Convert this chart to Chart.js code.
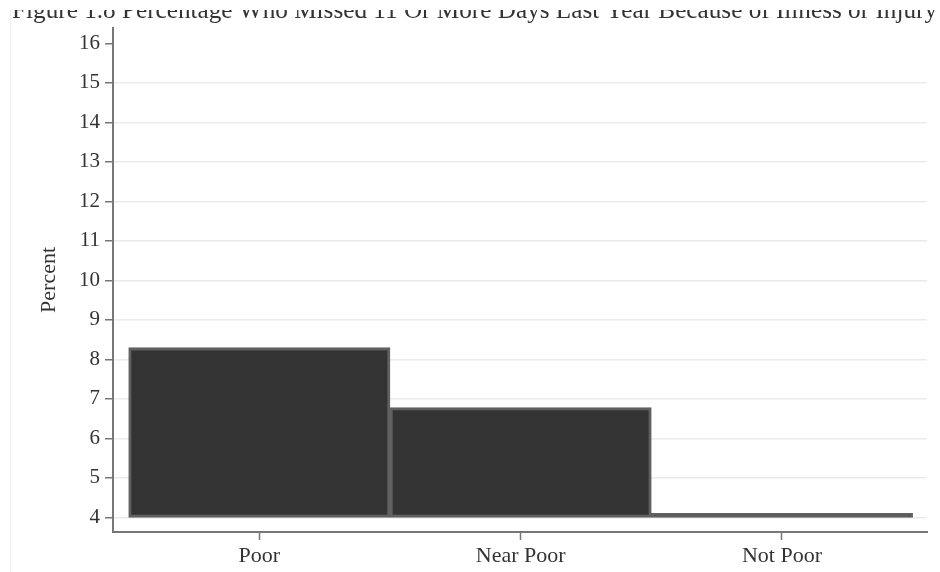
<!DOCTYPE html>
<html>
<head>
<meta charset="utf-8">
<script src="https://cdn.jsdelivr.net/npm/chart.js@4/dist/chart.umd.min.js"></script>
<style>
  html, body { margin: 0; padding: 0; background: #fff; }
  #wrap { position: relative; width: 940px; height: 572px; overflow: hidden; background: #fff; }
  #frame { position: absolute; left: 10px; top: 0; width: 0; height: 572px; border-left: 1px solid #ededed; }
  #c { position: absolute; left: 0; top: -4px; }
  #clip { position: absolute; left: 0; top: 0; width: 940px; height: 10px; background: #fff; }
</style>
</head>
<body>
<div id="wrap">
  <div id="frame"></div>
  <canvas id="c" width="940" height="576"></canvas>
  <div id="clip"></div>
</div>
<script>
// ---- data ----
const titleText = "Figure 1.8 Percentage Who Missed 11 Or More Days Last Year Because of Illness or Injury";
const categories = ["Poor", "Near Poor", "Not Poor"];
const percentValues = [8.3, 6.78, 4.1];
const baseValue = 4;
const yTicks = [4, 5, 6, 7, 8, 9, 10, 11, 12, 13, 14, 15, 16];
const yAxisTitle = "Percent";

const serif = "'Liberation Serif', 'Times New Roman', serif";
const textColor = "#333333";
const axisColor = "#777777";

const ctx = document.getElementById('c').getContext('2d');
new Chart(ctx, {
  type: 'bar',
  data: {
    datasets: [{
      data: categories.map((c, i) => ({ x: i, y: [baseValue, percentValues[i]] })),
      backgroundColor: '#333333',
      borderColor: '#606060',
      borderWidth: 3,
      borderSkipped: false,
      barPercentage: 1,
      categoryPercentage: 1
    }]
  },
  options: {
    responsive: false,
    animation: false,
    devicePixelRatio: 1,
    layout: { padding: { left: 12, right: 3, top: 0, bottom: 0 } },
    plugins: {
      legend: { display: false },
      tooltip: { enabled: false },
      title: {
        display: true,
        text: titleText,
        color: textColor,
        font: { family: serif, size: 26, weight: 'normal', lineHeight: 1.15 },
        padding: { top: 0, bottom: 2 }
      }
    },
    scales: {
      x: {
        type: 'linear',
        position: 'bottom',
        min: -0.56,
        max: 2.555,
        offset: false,
        afterBuildTicks: s => { s.ticks = categories.map((c, i) => ({ value: i })); },
        afterFit: s => { s.height = 40; },
        grid: { display: true, drawOnChartArea: false, offset: false, tickLength: 8, tickColor: axisColor, tickWidth: 1.5 },
        border: { display: true, color: axisColor, width: 2 },
        ticks: {
          autoSkip: false,
          maxRotation: 0,
          padding: 3,
          color: textColor,
          font: { family: serif, size: 22 },
          callback: v => categories[v]
        }
      },
      y: {
        type: 'linear',
        position: 'left',
        min: 3.63,
        max: 16.39,
        afterBuildTicks: s => { s.ticks = yTicks.map(v => ({ value: v })); },
        afterFit: s => { s.width = 101; },
        grid: {
          color: c => (c.tick && c.tick.value === 16) ? 'rgba(0,0,0,0)' : '#ebebeb',
          lineWidth: 1.5,
          tickLength: 8,
          tickColor: axisColor,
          tickWidth: 1.5
        },
        border: { display: true, color: axisColor, width: 2 },
        ticks: {
          padding: 5,
          color: textColor,
          font: { family: serif, size: 21 },
          callback: v => String(v)
        },
        title: {
          display: true,
          text: yAxisTitle,
          color: textColor,
          font: { family: serif, size: 22 },
          padding: { top: 24, bottom: 0 }
        }
      },
      ySpacer: {
        type: 'linear',
        position: 'right',
        min: 3.63,
        max: 16.39,
        afterFit: s => { s.width = 10; },
        grid: { display: false, drawOnChartArea: false, drawTicks: false },
        border: { display: false },
        ticks: { display: false }
      }
    }
  }
});
</script>
</body>
</html>
